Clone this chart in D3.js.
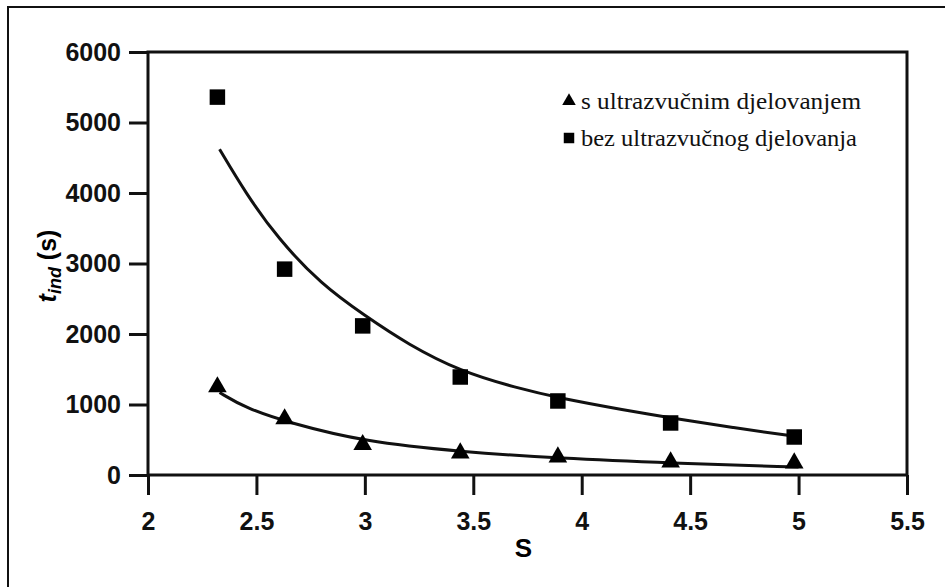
<!DOCTYPE html>
<html lang="hr">
<head>
<meta charset="UTF-8">
<title>t_ind u ovisnosti o S</title>
<script src="https://d3js.org/d3.v7.min.js"></script>
<style>
    body { margin: 0; background: #fff; }
    svg { display: block; background: #fff; }
    .axis text { font-family: "Liberation Sans", Arial, sans-serif; font-weight: bold; font-size: 25px; fill: #111; }
    .axis line { stroke: #111; stroke-width: 3; }
</style>
</head>
<body>
<svg width="945" height="587"></svg>
<script>
    // measured points
    const sUltra = [2.32, 2.63, 2.99, 3.44, 3.89, 4.41, 4.98];
    const tUltra = [1250, 795, 430, 312, 255, 184, 170];
    const sBez = [2.32, 2.63, 2.99, 3.44, 3.89, 4.41, 4.98];
    const tBez = [5360, 2920, 2115, 1390, 1050, 738, 539];

    // fitted curves
    const fitUltraS = [2.33, 2.45, 2.65, 3.0, 3.44, 3.9, 4.41, 5.0];
    const fitUltraT = [1170, 950, 740, 470, 330, 235, 170, 112];
    const fitBezS = [2.33, 2.45, 2.6, 2.8, 3.0, 3.2, 3.44, 3.7, 3.9, 4.2, 4.41, 4.7, 4.99];
    const fitBezT = [4620, 4000, 3350, 2700, 2260, 1850, 1470, 1235, 1090, 920, 810, 670, 545];

    const xTicks = [2, 2.5, 3, 3.5, 4, 4.5, 5, 5.5];
    const yTicks = [0, 1000, 2000, 3000, 4000, 5000, 6000];
    const legendLabels = ["s ultrazvučnim djelovanjem", "bez ultrazvučnog djelovanja"];

    const plot = { left: 148, right: 907, top: 52, bottom: 475 };

    const svg = d3.select("svg");

    // outer frame (only left and top edges show)
    svg.append("path")
        .attr("d", "M8,587V7H945")
        .attr("fill", "none")
        .attr("stroke", "#111")
        .attr("stroke-width", 2);

    const x = d3.scaleLinear().domain([2, 5.5]).range([plot.left, plot.right]);
    const y = d3.scaleLinear().domain([0, 6000]).range([plot.bottom, plot.top]);

    svg.append("g")
        .attr("class", "axis")
        .attr("transform", `translate(0,${plot.bottom})`)
        .call(d3.axisBottom(x).tickValues(xTicks).tickSize(20).tickSizeOuter(0).tickPadding(17)
            .tickFormat(d3.format("")))
        .call(g => g.select(".domain").remove());

    svg.append("g")
        .attr("class", "axis")
        .attr("transform", `translate(${plot.left},0)`)
        .call(d3.axisLeft(y).tickValues(yTicks).tickSize(19).tickSizeOuter(0).tickPadding(8)
            .tickFormat(d3.format("d")))
        .call(g => g.select(".domain").remove());

    // plot box
    svg.append("rect")
        .attr("x", plot.left).attr("y", plot.top)
        .attr("width", plot.right - plot.left).attr("height", plot.bottom - plot.top)
        .attr("fill", "none")
        .attr("stroke", "#111")
        .attr("stroke-width", 3);

    const line = d3.line()
        .x(d => x(d[0]))
        .y(d => y(d[1]))
        .curve(d3.curveBasis);

    const fitBez = fitBezS.map((s, i) => [s, fitBezT[i]]);
    const fitUltra = fitUltraS.map((s, i) => [s, fitUltraT[i]]);

    svg.append("path").datum(fitBez)
        .attr("d", line).attr("fill", "none").attr("stroke", "#111").attr("stroke-width", 3);
    svg.append("path").datum(fitUltra)
        .attr("d", line).attr("fill", "none").attr("stroke", "#111").attr("stroke-width", 3);

    const square = d3.symbol().type(d3.symbolSquare).size(240);
    const triangle = d3.symbol().type(d3.symbolTriangle).size(150);

    svg.append("g").selectAll("path")
        .data(sBez.map((s, i) => [s, tBez[i]]))
        .join("path")
        .attr("d", square)
        .attr("transform", d => `translate(${x(d[0])},${y(d[1])})`)
        .attr("fill", "#000");

    svg.append("g").selectAll("path")
        .data(sUltra.map((s, i) => [s, tUltra[i]]))
        .join("path")
        .attr("d", triangle)
        .attr("transform", d => `translate(${x(d[0])},${y(d[1])})`)
        .attr("fill", "#000");

    // axis titles
    svg.append("text")
        .attr("x", (plot.left + plot.right) / 2 - 4)
        .attr("y", 557)
        .attr("text-anchor", "middle")
        .style("font-family", "'Liberation Sans', Arial, sans-serif")
        .style("font-weight", "bold")
        .style("font-size", "26px")
        .text("S");

    const yTitle = svg.append("text")
        .attr("transform", "translate(56,266) rotate(-90)")
        .attr("text-anchor", "middle")
        .style("font-family", "'Liberation Sans', Arial, sans-serif")
        .style("font-weight", "bold")
        .style("font-size", "25px");
    yTitle.append("tspan").style("font-style", "italic").text("t");
    yTitle.append("tspan").style("font-style", "italic").style("font-size", "18px").attr("dy", 5).text("ind");
    yTitle.append("tspan").attr("dy", -5).text(" (s)");

    // legend
    const legend = svg.append("g");
    const legendSym = [d3.symbol().type(d3.symbolTriangle).size(80), d3.symbol().type(d3.symbolSquare).size(110)];
    const legendWidth = [280, 276];
    legendLabels.forEach((lab, i) => {
        const cy = 101 + i * 37;
        legend.append("path")
            .attr("d", legendSym[i])
            .attr("transform", `translate(569,${cy})`)
            .attr("fill", "#000");
        legend.append("text")
            .attr("x", 581)
            .attr("y", cy + 8)
            .attr("textLength", legendWidth[i])
            .attr("lengthAdjust", "spacingAndGlyphs")
            .style("font-family", "'Liberation Serif', 'Times New Roman', 'DejaVu Serif', serif")
            .style("font-size", "24px")
            .style("fill", "#111")
            .text(lab);
    });
</script>
</body>
</html>
